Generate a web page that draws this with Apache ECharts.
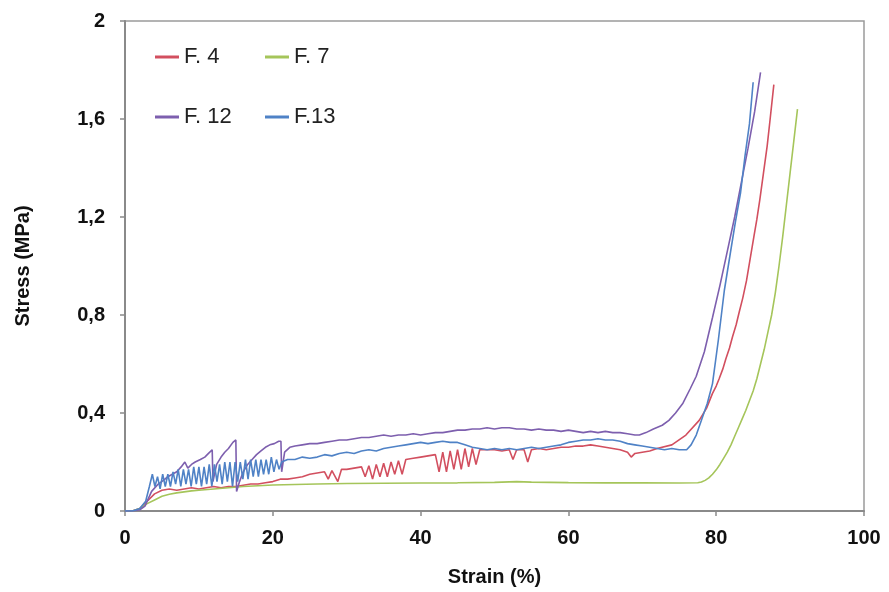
<!DOCTYPE html>
<html>
<head>
<meta charset="utf-8">
<script src="https://cdn.jsdelivr.net/npm/echarts@6/dist/echarts.min.js"></script>
<style>
html,body{margin:0;padding:0;background:#fff;}
#chart{width:889px;height:592px;}
</style>
</head>
<body>
<div id="chart"></div>
<script>
// ---- Data ----
const seriesNames = ['F. 4', 'F. 7', 'F. 12', 'F.13'];
const xTicks = [0, 20, 40, 60, 80, 100];
const yTicks = ['0', '0,4', '0,8', '1,2', '1,6', '2'];

const f4Strain = [0,1,2,3,4,5,6,7,8,9,10,11,12,13,14,15,16,17,18,19,20,21,22,23,24,25,26,27,27.5,28,28.8,29.3,30,31,32,32.5,33,33.5,34,34.5,35,35.5,36,36.5,37,37.5,38,39,40,41,42,42.5,43,43.5,44,44.5,45,45.5,46,46.5,47,47.5,48,49,50,51,52,52.5,53,54,54.5,55,56,57,58,59,60,61,62,63,64,65,66,67,68,68.5,69,70,71,72,74,75.9,77.7,78.7,79.5,80,80.4,80.9,81.3,81.8,82.2,82.7,83.1,83.6,84.1,84.6,85.1,85.5,85.9,86.4,86.9,87.3,87.8];
const f4Stress = [0,0,0.01,0.04,0.07,0.085,0.09,0.085,0.09,0.095,0.09,0.095,0.1,0.095,0.1,0.1,0.105,0.11,0.11,0.115,0.12,0.13,0.13,0.135,0.14,0.15,0.155,0.16,0.13,0.165,0.12,0.17,0.17,0.175,0.18,0.14,0.185,0.13,0.19,0.14,0.195,0.14,0.2,0.15,0.205,0.15,0.21,0.215,0.22,0.225,0.23,0.16,0.24,0.16,0.245,0.17,0.25,0.17,0.255,0.18,0.255,0.19,0.25,0.25,0.25,0.245,0.25,0.21,0.25,0.25,0.2,0.25,0.255,0.25,0.255,0.26,0.26,0.265,0.265,0.27,0.265,0.26,0.255,0.25,0.24,0.22,0.235,0.24,0.245,0.255,0.27,0.31,0.37,0.42,0.48,0.51,0.54,0.58,0.62,0.665,0.71,0.76,0.81,0.87,0.94,1.03,1.12,1.19,1.27,1.38,1.49,1.6,1.74];

const f7Strain = [0,1,2,3,4,5,6,7,8,9,10,12,14,16,18,20,23,26,30,35,40,45,50,53,55,60,65,70,75,77.5,78,78.5,79,79.5,80,80.5,81,81.5,82,82.5,83,83.5,84,84.5,85,85.5,86,86.5,87,87.5,88,88.5,89,89.5,90,90.5,91];
const f7Stress = [0,0,0.01,0.03,0.045,0.06,0.068,0.074,0.078,0.082,0.085,0.09,0.095,0.1,0.103,0.106,0.108,0.11,0.112,0.113,0.114,0.115,0.117,0.12,0.118,0.116,0.115,0.115,0.114,0.115,0.118,0.125,0.135,0.15,0.168,0.19,0.215,0.24,0.27,0.305,0.34,0.375,0.41,0.45,0.49,0.54,0.6,0.66,0.73,0.8,0.89,1.0,1.12,1.25,1.38,1.51,1.64];

const f12Strain = [0,1,2,2.7,3.6,4.5,5.2,5.8,6.4,7,7.6,8.1,8.5,9,9.5,10.2,10.8,11.3,11.8,11.9,12.4,13,13.5,14,14.6,15,15.1,15.5,16,16.6,17.2,17.8,18.4,19,19.6,20.2,20.8,21.1,21.2,21.6,22.3,23,24,25,26,27,28,29,30,31,32,33,34,35,36,37,38,39,40,41,42,43,44,45,46,47,48,49,50,51,52,53,54,55,56,57,58,59,60,61,62,63,64,65,66,67,68,69,69.6,70.5,71.5,72.7,73.6,74.5,75.5,76.5,77.3,78.4,79.5,80.5,81.5,82.5,83.4,84.3,85.2,86];
const f12Stress = [0,0,0.005,0.02,0.08,0.11,0.125,0.14,0.15,0.16,0.18,0.2,0.175,0.19,0.2,0.21,0.22,0.235,0.25,0.12,0.19,0.22,0.24,0.255,0.28,0.29,0.08,0.12,0.16,0.19,0.21,0.23,0.245,0.26,0.27,0.275,0.285,0.285,0.16,0.24,0.26,0.265,0.27,0.275,0.275,0.28,0.285,0.29,0.29,0.295,0.3,0.3,0.305,0.31,0.305,0.31,0.31,0.315,0.31,0.315,0.32,0.32,0.325,0.33,0.33,0.335,0.335,0.34,0.335,0.34,0.34,0.335,0.335,0.33,0.335,0.33,0.33,0.325,0.33,0.325,0.32,0.325,0.32,0.325,0.32,0.32,0.315,0.31,0.31,0.32,0.335,0.35,0.37,0.4,0.44,0.5,0.55,0.65,0.79,0.92,1.06,1.2,1.34,1.48,1.63,1.79];

const f13Strain = [0,1,2,2.8,3.3,3.7,4.05,4.4,4.75,5.1,5.45,5.8,6.15,6.5,6.85,7.2,7.55,7.9,8.25,8.6,8.95,9.3,9.65,10,10.35,10.7,11.05,11.4,11.75,12.1,12.45,12.8,13.15,13.5,13.85,14.2,14.55,14.9,15.25,15.6,15.95,16.3,16.65,17,17.35,17.7,18.05,18.4,18.75,19.1,19.45,19.8,20.15,20.5,20.85,21.2,22,23,24,25,26,27,28,29,30,31,32,33,34,35,36,37,38,39,40,41,42,43,44,45,46,47,48,49,50,51,52,53,54,55,56,57,58,59,60,61,62,63,64,65,66,67,68,69,70,71,72,73,74,75,76,76.6,77.3,78,78.8,79.5,80.3,81.1,81.9,82.6,83.3,83.9,84.5,85];
const f13Stress = [0,0,0.01,0.04,0.1,0.15,0.1,0.14,0.09,0.15,0.1,0.15,0.1,0.16,0.11,0.17,0.1,0.17,0.11,0.17,0.1,0.18,0.11,0.18,0.1,0.18,0.11,0.19,0.1,0.19,0.12,0.19,0.11,0.2,0.12,0.2,0.1,0.2,0.12,0.2,0.13,0.21,0.13,0.21,0.14,0.21,0.14,0.21,0.15,0.21,0.15,0.22,0.16,0.21,0.17,0.2,0.21,0.21,0.22,0.215,0.22,0.23,0.225,0.235,0.24,0.235,0.245,0.25,0.245,0.255,0.26,0.265,0.27,0.275,0.28,0.275,0.28,0.285,0.28,0.28,0.27,0.26,0.255,0.25,0.255,0.25,0.255,0.25,0.255,0.26,0.255,0.26,0.265,0.27,0.28,0.285,0.29,0.29,0.295,0.29,0.29,0.285,0.275,0.27,0.265,0.26,0.255,0.25,0.255,0.25,0.25,0.27,0.31,0.37,0.44,0.52,0.7,0.9,1.05,1.18,1.3,1.45,1.58,1.75];

const colors = ['#d24f5f', '#a5c55a', '#7d5fae', '#4f82c6'];

// ---- Build ----
function zip(xs, ys) { return xs.map((x, i) => [x, ys[i]]); }
const seriesData = [zip(f4Strain, f4Stress), zip(f7Strain, f7Stress), zip(f12Strain, f12Stress), zip(f13Strain, f13Stress)];

const FONT = '"Liberation Sans", Arial, sans-serif';
const legendPos = [
  {left: 150, top: 41},
  {left: 260, top: 41},
  {left: 150, top: 101},
  {left: 260, top: 101}
];

const chart = echarts.init(document.getElementById('chart'), null, {renderer: 'canvas'});
chart.setOption({
  backgroundColor: '#ffffff',
  animation: false,
  color: colors,
  grid: {left: 125, right: 25, top: 21, bottom: 81, show: true, borderColor: '#9a9a9a', borderWidth: 1.5, backgroundColor: 'transparent'},
  legend: seriesNames.map((n, i) => ({
    data: [n],
    left: legendPos[i].left,
    top: legendPos[i].top,
    icon: 'rect',
    itemWidth: 24,
    itemHeight: 3,
    itemGap: 8,
    textStyle: {fontFamily: FONT, fontSize: 22, color: '#222'}
  })),
  xAxis: {
    type: 'value', min: 0, max: 100, interval: 20,
    name: 'Strain (%)', nameLocation: 'middle', nameGap: 56,
    nameTextStyle: {fontFamily: FONT, fontSize: 20, fontWeight: 'bold', color: '#111'},
    axisLine: {onZero: false, lineStyle: {color: '#8a8a8a', width: 2}},
    axisTick: {show: true, inside: false, length: 5, lineStyle: {color: '#8a8a8a', width: 1.5}},
    axisLabel: {fontFamily: FONT, fontSize: 20, fontWeight: 'bold', color: '#111', margin: 17,
      formatter: v => String(xTicks[Math.round(v / 20)])},
    splitLine: {show: false}
  },
  yAxis: {
    type: 'value', min: 0, max: 2, interval: 0.4,
    name: 'Stress (MPa)', nameLocation: 'middle', nameGap: 92,
    nameTextStyle: {fontFamily: FONT, fontSize: 20, fontWeight: 'bold', color: '#111'},
    axisLine: {onZero: false, lineStyle: {color: '#8a8a8a', width: 2}},
    axisTick: {show: true, inside: false, length: 5, lineStyle: {color: '#8a8a8a', width: 1.5}},
    axisLabel: {fontFamily: FONT, fontSize: 20, fontWeight: 'bold', color: '#111', margin: 20,
      formatter: v => yTicks[Math.round(v / 0.4)]},
    splitLine: {show: false}
  },
  series: seriesNames.map((n, i) => ({
    name: n, type: 'line', data: seriesData[i], showSymbol: false, symbol: 'none',
    lineStyle: {width: 1.6, color: colors[i]}, itemStyle: {color: colors[i]}
  }))
});
</script>
</body>
</html>
